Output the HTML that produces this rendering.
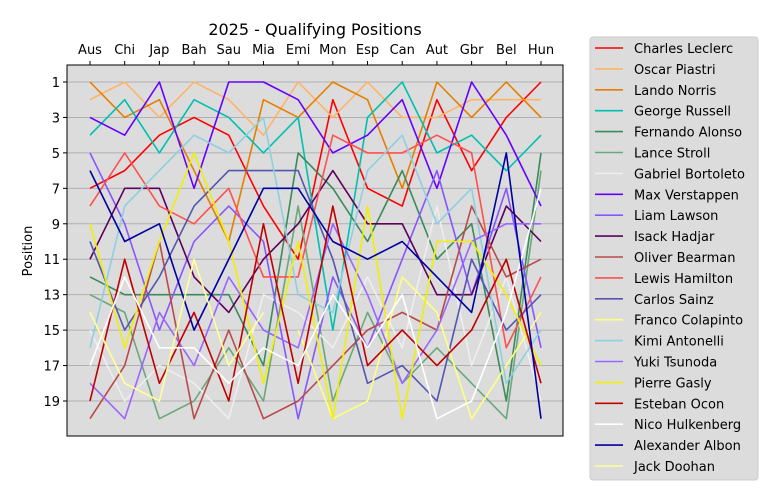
<!DOCTYPE html>
<html><head><meta charset="utf-8"><style>
html,body{margin:0;padding:0;background:#fff;}
svg{display:block;font-family:"DejaVu Sans","Liberation Sans",sans-serif;}
</style></head><body>
<svg id="s" width="778" height="500" viewBox="0 0 778 500" xmlns="http://www.w3.org/2000/svg">
<rect x="0" y="0" width="778" height="500" fill="#fff"/>
<rect x="67" y="65" width="496" height="371" fill="#dcdcdc"/>
<g id="grid"></g>
<g id="lines"></g>
<rect x="67" y="65" width="496" height="371" fill="none" stroke="#000" stroke-width="1"/>
<g id="ticks" font-size="13" fill="#000"></g>
<text x="315" y="35" font-size="16" text-anchor="middle">2025 - Qualifying Positions</text>
<text x="32" y="251" font-size="13" text-anchor="middle" transform="rotate(-90 32 251)">Position</text>
<rect x="590" y="37" width="168" height="443" rx="3" fill="#dcdcdc" stroke="#ccc"/>
<g id="legend" font-size="13"></g>
</svg>
<script>
var races=["Aus","Chi","Jap","Bah","Sau","Mia","Emi","Mon","Esp","Can","Aut","Gbr","Bel","Hun"];
function X(i){return 90+i*(541-90)/13;}
function Y(p){return 82+(p-1)*(401-82)/18;}
var N=null;
var S=[
["Charles Leclerc","#ff0000",[7,6,4,3,4,8,11,2,7,8,2,6,3,1]],
["Oscar Piastri","#ffb366",[2,1,3,1,2,4,1,3,1,3,3,2,2,2]],
["Lando Norris","#e67e00",[1,3,2,6,10,2,3,1,2,7,1,3,1,3]],
["George Russell","#00c0b0",[4,2,5,2,3,5,3,15,3,1,5,4,6,4]],
["Fernando Alonso","#3a8a5a",[12,13,13,13,13,17,5,7,10,6,11,9,19,5]],
["Lance Stroll","#6aa87a",[13,14,20,19,16,19,8,19,14,18,16,18,20,6]],
["Gabriel Bortoleto","#eeeeee",[15,19,17,18,20,13,14,16,12,16,8,17,12,19]],
["Max Verstappen","#6600ff",[3,4,1,7,1,1,2,5,4,2,7,1,4,8]],
["Liam Lawson","#8855ff",[5,9,15,10,8,10,20,12,16,11,6,13,7,16]],
["Isack Hadjar","#5c005c",[11,7,7,12,14,11,9,6,9,9,13,13,8,10]],
["Oliver Bearman","#b84a4a",[20,17,10,20,15,20,19,17,15,14,15,8,12,11]],
["Lewis Hamilton","#ff5050",[8,5,8,9,7,12,12,4,5,5,4,5,16,12]],
["Carlos Sainz","#5555b0",[10,15,12,8,6,6,6,11,18,17,19,11,15,13]],
["Franco Colapinto","#ffff80",[N,N,N,N,N,N,15,20,19,12,14,20,17,14]],
["Kimi Antonelli","#8ecfe0",[16,8,6,4,5,3,13,14,6,4,9,7,18,15]],
["Yuki Tsunoda","#9966ff",[18,20,14,17,12,15,16,9,13,18,15,10,9,9]],
["Pierre Gasly","#f0f000",[9,16,10,5,10,18,10,20,8,20,10,10,13,17]],
["Esteban Ocon","#c00000",[19,11,18,14,19,9,18,8,17,15,17,15,11,18]],
["Nico Hulkenberg","#ffffff",[17,12,16,16,18,16,17,13,16,13,20,19,14,7]],
["Alexander Albon","#0000a0",[6,10,9,15,11,7,7,10,11,10,12,14,5,20]],
["Jack Doohan","#ffff99",[14,18,19,11,17,14,N,N,N,N,N,N,N,N]]
];
var NS="http://www.w3.org/2000/svg";
function el(t,a,p,txt){var e=document.createElementNS(NS,t);for(var k in a)e.setAttribute(k,a[k]);if(txt!=null)e.textContent=txt;p.appendChild(e);return e;}
var g=document.getElementById("grid"),tk=document.getElementById("ticks");
for(var p=1;p<=19;p+=2){el("line",{x1:67,x2:563,y1:Y(p),y2:Y(p),stroke:"#b0b0b0","stroke-width":1},g);
el("line",{x1:63,x2:67,y1:Y(p),y2:Y(p),stroke:"#000"},tk);
el("text",{x:60,y:Y(p)+5,"text-anchor":"end"},tk,p);}
races.forEach(function(r,i){el("line",{x1:X(i),x2:X(i),y1:61,y2:65,stroke:"#000"},tk);
el("text",{x:X(i),y:54,"text-anchor":"middle"},tk,r);});
var L=document.getElementById("lines"),lg=document.getElementById("legend");
S.forEach(function(s,j){var pts=[];s[2].forEach(function(v,i){if(v!=null)pts.push(X(i)+","+Y(v));});
el("polyline",{points:pts.join(" "),fill:"none",stroke:s[1],"stroke-width":1.6,"stroke-linejoin":"round"},L);
var y=48+j*20.9;
el("line",{x1:595,x2:623,y1:y,y2:y,stroke:s[1],"stroke-width":1.6},lg);
el("text",{x:634,y:y+5,fill:"#000"},lg,s[0]);});
</script>
</body></html>
